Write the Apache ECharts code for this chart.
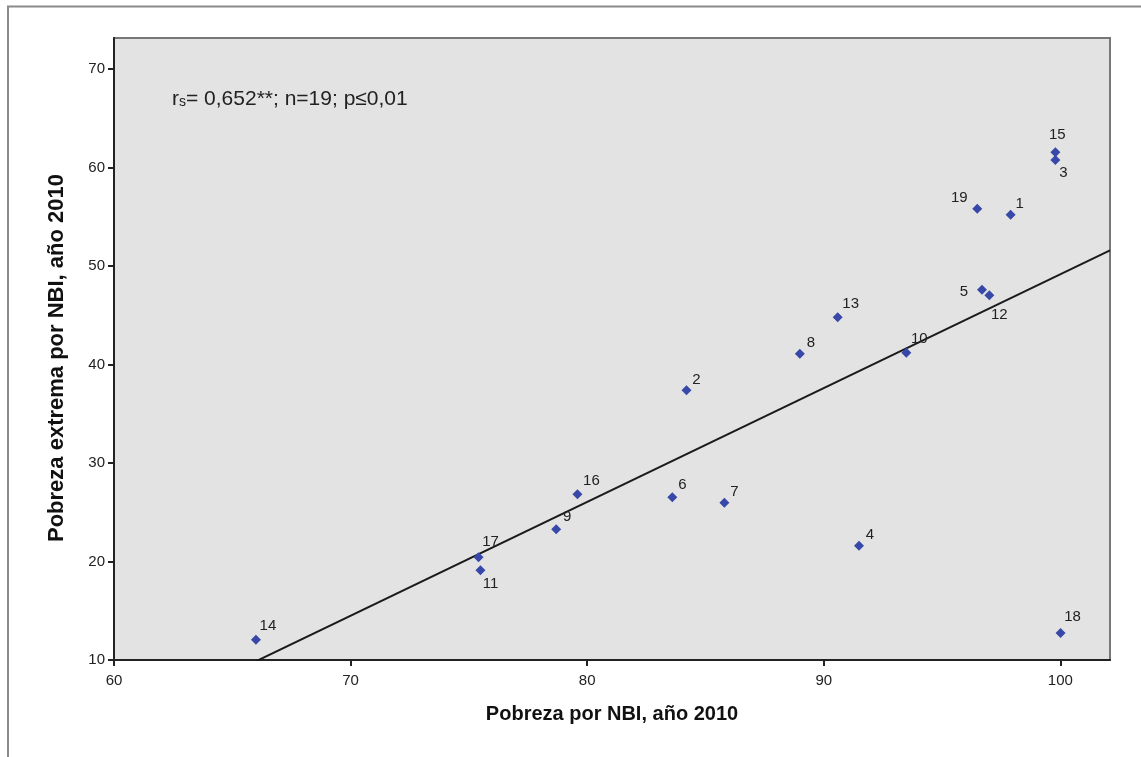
<!DOCTYPE html>
<html>
<head>
<meta charset="utf-8">
<script src="https://cdn.jsdelivr.net/npm/echarts@6/dist/echarts.min.js"></script>
<style>
html,body{margin:0;padding:0;background:#fff;}
#chart{width:1141px;height:757px;}
</style>
</head>
<body>
<div id="chart"></div>
<script>
// ---- data ----
const pointIds = [14, 17, 11, 9, 16, 6, 2, 7, 8, 13, 10, 4, 5, 12, 19, 1, 15, 3, 18];
const nbiPoverty = [66.0, 75.41, 75.49, 78.69, 79.59, 83.60, 84.20, 85.80, 88.99, 90.59, 93.49, 91.49, 96.69, 97.00, 96.49, 97.90, 99.79, 99.79, 100.01];
const extremePoverty = [12.06, 20.43, 19.11, 23.27, 26.82, 26.52, 37.38, 25.97, 41.10, 44.79, 41.20, 21.60, 47.59, 47.03, 55.82, 55.21, 61.54, 60.76, 12.74];
const xTicks = [60, 70, 80, 90, 100];
const yTicks = [10, 20, 30, 40, 50, 60, 70];
const xTitle = 'Pobreza por NBI, año 2010';
const yTitle = 'Pobreza extrema por NBI, año 2010';
const statText = ['r', 's', '= 0,652**; n=19; p≤0,01'];

// ---- label placement (styling, by point id) ----
const labelOffsets = {
  14: [12, -14], 17: [12, -15], 11: [10, 14], 9: [11, -12], 16: [14, -13],
  6: [10, -12], 2: [10, -10], 7: [10, -11], 8: [11, -11], 13: [13, -13],
  10: [13, -14], 4: [11, -11], 5: [-18, 2], 12: [10, 20], 19: [-18, -11],
  1: [9, -11], 15: [2, -17], 3: [8, 13], 18: [12, -16]
};

// ---- least-squares fit line from the data ----
const n = nbiPoverty.length;
const mx = nbiPoverty.reduce((a, b) => a + b, 0) / n;
const my = extremePoverty.reduce((a, b) => a + b, 0) / n;
let sxy = 0, sxx = 0;
for (let i = 0; i < n; i++) {
  sxy += (nbiPoverty[i] - mx) * (extremePoverty[i] - my);
  sxx += (nbiPoverty[i] - mx) ** 2;
}
const slope = sxy / sxx;
const intercept = my - slope * mx;

const X_MIN = 60, X_MAX = 102.1, Y_MIN = 10, Y_MAX = 73.15;
const fitData = [[X_MIN, intercept + slope * X_MIN], [X_MAX, intercept + slope * X_MAX]];

const scatterData = pointIds.map((id, i) => ({
  value: [nbiPoverty[i], extremePoverty[i]],
  name: String(id),
  label: { offset: labelOffsets[id] }
}));

const FONT = "'Liberation Sans', Arial, sans-serif";

const chart = echarts.init(document.getElementById('chart'), null, { renderer: 'canvas' });
chart.setOption({
  backgroundColor: '#ffffff',
  animation: false,
  grid: {
    left: 114, top: 38, right: 31, bottom: 97,
    show: true, backgroundColor: '#e3e3e3', borderColor: '#777777', borderWidth: 2
  },
  xAxis: {
    type: 'value', min: X_MIN, max: X_MAX,
    axisLine: { show: true, onZero: false, lineStyle: { color: '#222', width: 2 } },
    axisTick: { show: true, inside: false, length: 6, customValues: xTicks, lineStyle: { color: '#222', width: 2 } },
    axisLabel: { customValues: xTicks, color: '#222', fontSize: 15, fontFamily: "'Liberation Sans Narrow', " + FONT, margin: 13 },
    splitLine: { show: false },
    name: xTitle, nameLocation: 'middle', nameGap: 44,
    nameTextStyle: { color: '#111', fontSize: 20, fontWeight: 'bold', fontFamily: FONT }
  },
  yAxis: {
    type: 'value', min: Y_MIN, max: Y_MAX,
    axisLine: { show: true, onZero: false, lineStyle: { color: '#222', width: 2 } },
    axisTick: { show: true, inside: false, length: 6, customValues: yTicks, lineStyle: { color: '#222', width: 2 } },
    axisLabel: { customValues: yTicks, color: '#222', fontSize: 15, fontFamily: "'Liberation Sans Narrow', " + FONT, margin: 9 },
    splitLine: { show: false }
  },
  graphic: [
    {
      type: 'polyline', silent: true,
      shape: { points: [[8, 757], [8, 6.5], [1141, 6.5]] },
      style: { stroke: '#8a8a8a', lineWidth: 2, fill: null }
    },
    {
      type: 'text', silent: true, x: 57, y: 358, rotation: Math.PI / 2,
      style: {
        text: yTitle, fill: '#111', font: 'bold 22px ' + FONT,
        align: 'center', verticalAlign: 'middle'
      }
    },
    {
      type: 'text', silent: true, x: 172, y: 97,
      style: {
        text: '{r|' + statText[0] + '}{s|' + statText[1] + '}{r|' + statText[2] + '}',
        verticalAlign: 'middle', align: 'left',
        rich: {
          r: { fontSize: 21, fontFamily: FONT, fill: '#222', color: '#222', verticalAlign: 'bottom', lineHeight: 25 },
          s: { fontSize: 14, fontFamily: FONT, fill: '#222', color: '#222', verticalAlign: 'bottom', lineHeight: 20 }
        }
      }
    }
  ],
  series: [
    {
      type: 'line', data: fitData, symbol: 'none', silent: true, clip: true,
      lineStyle: { color: '#1a1a1a', width: 2 }, z: 2
    },
    {
      type: 'scatter', data: scatterData, symbol: 'diamond', symbolSize: 10,
      itemStyle: { color: '#3848a8', opacity: 1 }, z: 3,
      label: {
        show: true, position: 'inside', formatter: '{b}',
        color: '#222', fontSize: 15, fontFamily: FONT
      }
    }
  ]
});
</script>
</body>
</html>
